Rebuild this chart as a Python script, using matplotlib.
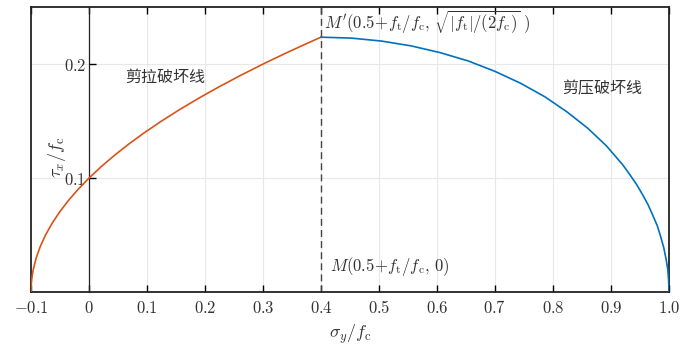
import matplotlib
matplotlib.use("Agg")
import matplotlib.pyplot as plt

plt.rcParams['mathtext.fontset'] = 'cm'
plt.rcParams['font.family'] = ['Noto Sans CJK SC', 'DejaVu Sans']

# shear-tension failure line
sig_tension = [-0.1, -0.09975, -0.099, -0.09775, -0.096, -0.091, -0.084, -0.075, -0.064,
               -0.051, -0.036, -0.019, 0.0, 0.021, 0.044, 0.069, 0.096, 0.125, 0.156,
               0.189, 0.224, 0.261, 0.3, 0.341, 0.384, 0.4]
tau_tension = [0.0, 0.005, 0.01, 0.015, 0.02, 0.03, 0.04, 0.05, 0.06,
               0.07, 0.08, 0.09, 0.10, 0.11, 0.12, 0.13, 0.14, 0.15, 0.16,
               0.17, 0.18, 0.19, 0.20, 0.21, 0.22, 0.2236]

# shear-compression failure line
sig_comp = [0.4, 0.452, 0.504, 0.555, 0.605, 0.654, 0.700, 0.744, 0.786, 0.824,
            0.860, 0.892, 0.920, 0.9322, 0.944, 0.9543, 0.964, 0.9722, 0.980, 0.9858,
            0.991, 0.9949, 0.998, 0.9994, 1.0]
tau_comp = [0.2236, 0.2228, 0.2202, 0.2160, 0.2101, 0.2027, 0.1936, 0.1832, 0.1713, 0.1581,
            0.1437, 0.1283, 0.1118, 0.1032, 0.0945, 0.0856, 0.0765, 0.0672, 0.0579, 0.0484,
            0.0388, 0.0292, 0.0195, 0.0098, 0.0]

m_x = 0.4
m_y = 0.2236
xticks = [-0.1, 0, 0.1, 0.2, 0.3, 0.4, 0.5, 0.6, 0.7, 0.8, 0.9, 1.0]
xticklabels = ['$-0.1$', '$0$', '$0.1$', '$0.2$', '$0.3$', '$0.4$', '$0.5$', '$0.6$',
               '$0.7$', '$0.8$', '$0.9$', '$1.0$']
yticks = [0.1, 0.2]
yticklabels = ['$0.1$', '$0.2$']

fig = plt.figure(figsize=(7.0, 3.54), dpi=100)
ax = fig.add_axes([0.0443, 0.175, 0.9114, 0.805])

ax.set_xlim(-0.1, 1.0)
ax.set_ylim(0, 0.25)

for x in xticks[1:-1]:
    ax.axvline(x, color='#e8e8e8', lw=0.8, zorder=0)
for y in yticks:
    ax.axhline(y, color='#e8e8e8', lw=0.8, zorder=0)

ax.plot(sig_tension, tau_tension, color='#D95319', lw=1.2, zorder=3)
ax.plot(sig_comp, tau_comp, color='#0072BD', lw=1.2, zorder=3)
ax.plot([m_x, m_x], [0, 0.25], color='#444444', lw=1.0, ls=(0, (5, 3)), zorder=2)

# left spine sits at x = 0, outer box edge drawn separately
ax.spines['left'].set_position(('data', 0))
ax.axvline(-0.1, color='#222222', lw=1.3, clip_on=False)
for s in ['top', 'bottom', 'right']:
    ax.spines[s].set_color('#222222')
    ax.spines[s].set_linewidth(1.3)
ax.spines['left'].set_color('#222222')
ax.spines['left'].set_linewidth(0.9)

ax.set_xticks(xticks)
ax.set_xticklabels(xticklabels, fontsize=12)
ax.set_yticks(yticks)
ax.set_yticklabels(yticklabels, fontsize=12)
ax.tick_params(axis='x', direction='in', top=True, length=5, width=1.0, pad=6,
               labelcolor='#333333')
ax.tick_params(axis='y', direction='in', length=5, width=1.0, pad=2,
               labelcolor='#333333')

ax.set_xlabel(r'$\sigma_y/f_{\rm c}$', fontsize=13, labelpad=4, color='#333333')
ax.text(-0.056, 0.118, r'$\tau_x/f_{\rm c}$', rotation=90, fontsize=13,
        ha='center', va='center', color='#333333')

ax.text(m_x + 0.005, 0.2245, r"$M'(0.5\!+\!f_{\rm t}/f_{\rm c},\,\sqrt{|f_{\rm t}|/(2f_{\rm c})}\ )$",
        fontsize=12, ha='left', va='bottom', color='#333333')
ax.text(m_x + 0.015, 0.022, r"$M(0.5\!+\!f_{\rm t}/f_{\rm c},\,0)$",
        fontsize=12, ha='left', va='center', color='#333333')

ax.text(0.063, 0.188, '剪拉破坏线', fontsize=11.5, color='#333333', va='center')
ax.text(0.815, 0.178, '剪压破坏线', fontsize=11.5, color='#333333', va='center')

fig.savefig('out.png', dpi=100)
